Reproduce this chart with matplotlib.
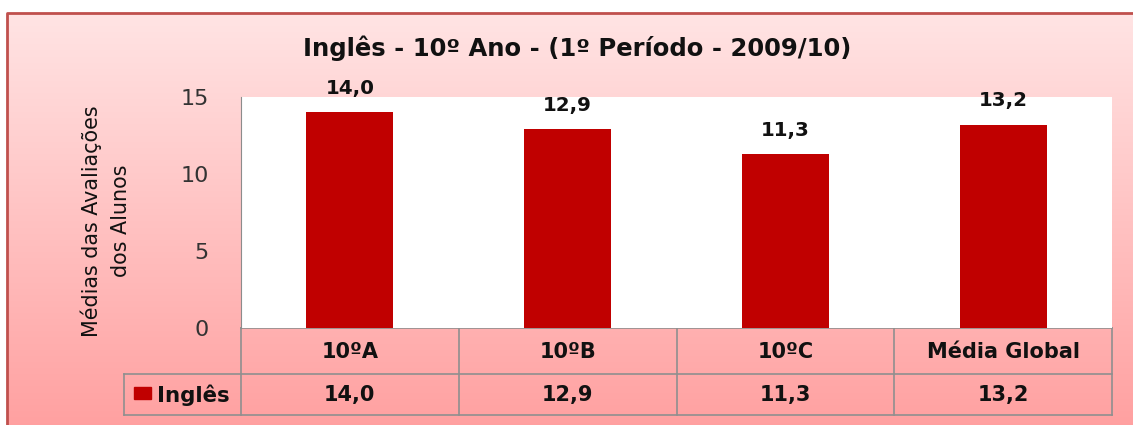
import matplotlib.pyplot as plt
import numpy as np

plt.rcParams['font.family'] = ['DejaVu Sans']

# data
turmas = ['10ºA', '10ºB', '10ºC', 'Média Global']
medias = [14.0, 12.9, 11.3, 13.2]
serie = 'Inglês'
titulo = 'Inglês - 10º Ano - (1º Período - 2009/10)'
yticks = [0, 5, 10, 15]

W, H = 1133, 425
fig = plt.figure(figsize=(W / 100, H / 100), dpi=100)

# background axes in pixel coords
bg = fig.add_axes([0, 0, 1, 1])
bg.axis('off')
grad = np.linspace(0, 1, 256).reshape(-1, 1)
top = np.array([255, 228, 228]) / 255
bot = np.array([255, 160, 160]) / 255
img = (top + grad[..., None] * (bot - top)).reshape(256, 1, 3)
bg.imshow(img, extent=[7, W + 5, H + 5, 13], aspect='auto', zorder=0)
bg.plot([7, 7, W + 5], [H + 5, 13, 13], color='#c0504d', lw=2, zorder=1)
bg.set_xlim(0, W)
bg.set_ylim(H, 0)

bg.text(577, 48, titulo, ha='center', va='center', fontsize=17.5,
        fontweight='bold', color='#111111')

# plot area
L, R, T, B = 241, 1112, 97, 328
ax = fig.add_axes([L / W, (H - B) / H, (R - L) / W, (B - T) / H])
ax.set_facecolor('white')
x = np.arange(len(turmas))
ax.bar(x, medias, width=0.4, color='#c00000', zorder=2)
for xi, v in zip(x, medias):
    ax.text(xi, v + 1.55, f'{v:.1f}'.replace('.', ','), ha='center', va='center',
            fontsize=14.3, fontweight='bold', color='#111111', clip_on=False)
ax.set_xlim(-0.5, len(turmas) - 0.5)
ax.set_ylim(0, 15)
ax.set_yticks(yticks)
ax.set_yticklabels([str(t) for t in yticks], fontsize=16, color='#333333')
ax.set_xticks([])
for s in ['top', 'right', 'bottom']:
    ax.spines[s].set_visible(False)
ax.spines['left'].set_color('#8c8c8c')
ax.tick_params(axis='y', length=0, pad=23)

bg.text(91, 221, 'Médias das Avaliações', rotation=90, ha='center', va='center',
        fontsize=14.9, color='#111111')
bg.text(121, 221, 'dos Alunos', rotation=90, ha='center', va='center',
        fontsize=14.9, color='#111111')

# data table
r1, r2, r3 = 328, 374, 415
leg_l = 124
cw = (R - L) / len(turmas)
edges = [L + i * cw for i in range(len(turmas) + 1)]
gc = '#8f8f8f'
bg.plot([L, R], [r1, r1], color=gc, lw=1.2, zorder=3)
bg.plot([leg_l, R], [r2, r2], color=gc, lw=1.2, zorder=3)
bg.plot([leg_l, R], [r3, r3], color=gc, lw=1.2, zorder=3)
for e in edges:
    bg.plot([e, e], [r1, r3], color=gc, lw=1.2, zorder=3)
bg.plot([leg_l, leg_l], [r2, r3], color=gc, lw=1.2, zorder=3)
for i, (t, v) in enumerate(zip(turmas, medias)):
    cx = (edges[i] + edges[i + 1]) / 2
    bg.text(cx, (r1 + r2) / 2 + 1, t, ha='center', va='center', fontsize=15,
            fontweight='bold', color='#111111')
    bg.text(cx, (r2 + r3) / 2 + 1, f'{v:.1f}'.replace('.', ','), ha='center',
            va='center', fontsize=15, fontweight='bold', color='#111111')
bg.add_patch(plt.Rectangle((134, 387), 17, 12, color='#c00000', zorder=3))
bg.text(157, (r2 + r3) / 2 + 1, serie, ha='left', va='center', fontsize=15.3,
        fontweight='bold', color='#111111')

fig.savefig('out.png', dpi=100)
